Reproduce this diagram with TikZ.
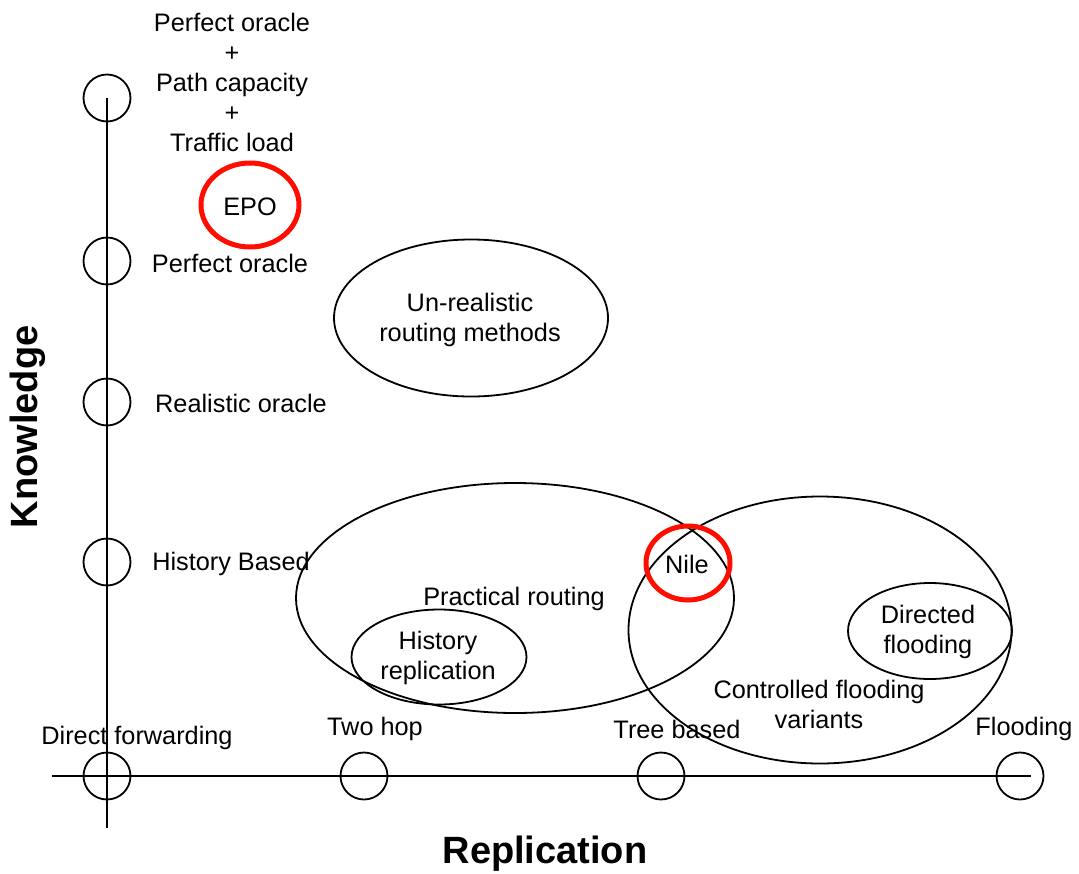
\documentclass[tikz,border=0pt]{standalone}
\usepackage{fontspec}
\setmainfont{Liberation Sans}
\usetikzlibrary{shapes.geometric}
\begin{document}
\begin{tikzpicture}[x=1pt,y=-1pt,
  lbl/.style={font=\fontsize{25.3}{30}\selectfont, inner sep=0pt, align=center, yshift=-2pt},
  axlbl/.style={font=\fontsize{38}{44}\selectfont\bfseries, inner sep=0pt},
  tick/.style={circle, draw, line width=1.8pt, minimum size=47pt, inner sep=0pt},
  region/.style={ellipse, draw, line width=1.8pt, inner sep=0pt, font=\fontsize{25.3}{30}\selectfont, align=center},
  hilite/.style={ellipse, draw=red!90!orange, line width=5pt, inner sep=0pt, font=\fontsize{25.3}{30}\selectfont},
  axis/.style={line width=1.8pt}]
\useasboundingbox (0,0) rectangle (1079,873);
% axes
\coordinate (vbot) at (107,828);
\coordinate (hleft) at (52,776);
\coordinate (hright) at (1031,776);
\node[tick] (k4) at (107,98) {};
\node[tick] (k3) at (107,261) {};
\node[tick] (k2) at (107,402) {};
\node[tick] (k1) at (107,562) {};
\node[tick] (r0) at (107,776) {};
\node[tick] (r1) at (364,776) {};
\node[tick] (r2) at (661,776) {};
\node[tick] (r3) at (1020,776) {};
\draw[axis] (k4.center) -- (vbot);
\draw[axis] (hleft) -- (hright);
% axis tick labels
\node[lbl] (t4) at (232,80) {Perfect oracle\\+\\Path capacity\\+\\Traffic load};
\node[lbl] (t3) at (230,261) {Perfect oracle};
\node[lbl] (t2) at (241,401) {Realistic oracle};
\node[lbl] (t1) at (231,562) {History Based};
\node[lbl] (s0) at (137,736) {Direct forwarding};
\node[lbl] (s1) at (375,727) {Two hop};
\node[lbl] (s2) at (677,727) {Tree based};
\node[lbl] (s3) at (1024,727) {Flooding};
% regions
\node[region, minimum width=274pt, minimum height=157pt] (unreal) at (471,318) {};
\node[lbl] (unrealtext) at (470,318) {Un-realistic\\routing methods};
\node[region, minimum width=438pt, minimum height=230pt] (prac) at (515,598) {};
\node[lbl] (practext) at (514,597) {Practical routing};
\node[region, minimum width=175pt, minimum height=95pt] (hist) at (439,657) {};
\node[lbl] (histtext) at (438,656) {History\\replication};
\node[region, minimum width=383pt, minimum height=267pt] (ctrl) at (820,630) {};
\node[lbl] (ctrltext) at (819,702) {Controlled flooding\\variants};
\node[region, minimum width=164pt, minimum height=96pt] (dir) at (930,631) {};
\node[lbl] (dirtext) at (928,630) {Directed\\flooding};
\node[hilite, minimum width=98pt, minimum height=84pt] (epo) at (250,205) {};
\node[lbl] (epotext) at (250,205) {EPO};
\node[hilite, minimum width=84pt, minimum height=74pt] (nile) at (688,563) {};
\node[lbl] (niletext) at (687,562) {Nile};
% axis titles
\node[axlbl, rotate=90] (know) at (28,427) {Knowledge};
\node[axlbl] (repl) at (545,854) {Replication};
\end{tikzpicture}
\end{document}
